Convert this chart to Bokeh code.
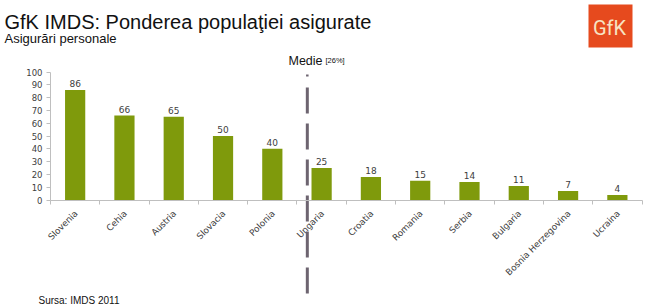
import numpy as np
from bokeh.plotting import figure
from bokeh.models import Range1d, LinearAxis, FixedTicker, Label, BoxAnnotation, ColumnDataSource
from bokeh.embed import file_html
from bokeh.resources import INLINE
from bokeh.core.properties import value

# ---- data ----
countries = ["Slovenia", "Cehia", "Austria", "Slovacia", "Polonia", "Ungaria",
             "Croatia", "Romania", "Serbia", "Bulgaria", "Bosnia Herzegovina", "Ucraina"]
shares = [86, 66, 65, 50, 40, 25, 18, 15, 14, 11, 7, 4]
y_ticks = [0, 10, 20, 30, 40, 50, 60, 70, 80, 90, 100]
median_label = "Medie"
median_value_label = "[26%]"
median_pos = 4.71          # position of the average marker on the category axis
median_span = (88, -75)    # vertical extent of the dashed marker (value units)
median_dot = (98, 96.6)

title = "GfK IMDS: Ponderea populaţiei asigurate"
subtitle = "Asigurări personale"
source_note = "Sursa: IMDS 2011"

W, H = 650, 307
BAR = "#7f9a0c"
TXT = "#404040"
AX = "#bfbfbf"

idx = list(range(len(countries)))
src = ColumnDataSource(dict(x=idx, top=shares, lab=[str(v) for v in shares],
                            name=countries, base=[0] * len(countries)))

p = figure(width=W, height=H, output_backend="svg", toolbar_location=None,
           x_range=Range1d(-1.5144, 11.672), y_range=Range1d(-84.0, 155.9),
           x_axis_type=None, y_axis_type=None, min_border=0, title=None)
p.outline_line_color = None
p.background_fill_color = "white"
p.border_fill_color = "white"

# x axis (at value 0); category names drawn as rotated text below
xt = FixedTicker(ticks=idx, minor_ticks=[i - 0.5 for i in range(len(countries) + 1)])
xaxis = LinearAxis(fixed_location=0, ticker=xt, bounds=(-0.5, len(countries) - 0.5),
                   major_label_overrides={i: "" for i in idx},
                   major_tick_out=0, major_tick_in=0, minor_tick_out=4, minor_tick_in=0,
                   minor_tick_line_color=AX, axis_line_color=AX,
                   major_label_text_font_size="0px")
p.add_layout(xaxis, "below")

# y axis
yaxis = LinearAxis(fixed_location=-0.5, ticker=FixedTicker(ticks=y_ticks), bounds=(0, 100),
                   major_tick_out=4, major_tick_in=0, minor_tick_out=0, minor_tick_in=0,
                   major_tick_line_color=AX, axis_line_color=AX,
                   major_label_text_font="DejaVu Sans", major_label_text_font_size="8.5px",
                   major_label_text_color=TXT, major_label_standoff=4)
p.add_layout(yaxis, "left")

p.vbar(x="x", top="top", width=0.41, source=src, fill_color=BAR, line_color=None)
p.text(x="x", y="top", text="lab", source=src, text_align="center", text_baseline="bottom",
       y_offset=-3, text_font=value("DejaVu Sans"), text_font_size="9px", text_color=TXT)

# average marker
p.segment(x0=[median_pos], y0=[median_span[0]], x1=[median_pos], y1=[median_span[1]],
          line_color="#6d6470", line_width=3, line_dash="26 10")
p.segment(x0=[median_pos], y0=[median_dot[0]], x1=[median_pos], y1=[median_dot[1]],
          line_color="#6d6470", line_width=2.5)

# category labels
p.text(x="x", y="base", text="name", source=src, angle=np.pi / 4,
       text_align="right", text_baseline="middle", x_offset=1, y_offset=12,
       text_font=value("DejaVu Sans"), text_font_size="8.8px", text_color=TXT)

def lab(text, x, y, size, color="#111111", font="Liberation Sans", **kw):
    p.add_layout(Label(x=x, y=H - y, x_units="screen", y_units="screen", text=text,
                       text_font=font, text_font_size=size, text_color=color,
                       text_baseline="alphabetic", **kw))

lab(title, 4, 21, "20px")
lab(subtitle, 4, 38, "13px")
lab(median_label, 288, 60, "12.5px")
lab(median_value_label, 325, 60, "7.5px")
lab(source_note, 38, 300, "10px")

# logo
p.add_layout(BoxAnnotation(left=588, right=632, top=H - 4, bottom=H - 47,
                           left_units="screen", right_units="screen",
                           top_units="screen", bottom_units="screen",
                           fill_color="#e64a1e", fill_alpha=1.0, line_color=None))
p.add_layout(Label(x=609, y=H - 27, x_units="screen", y_units="screen", text="GfK",
                   text_font="Roboto", text_font_size="20px",
                   text_color="#f7e3c3", text_align="center", text_baseline="middle"))

open("out.html", "w").write(file_html(p, INLINE))
